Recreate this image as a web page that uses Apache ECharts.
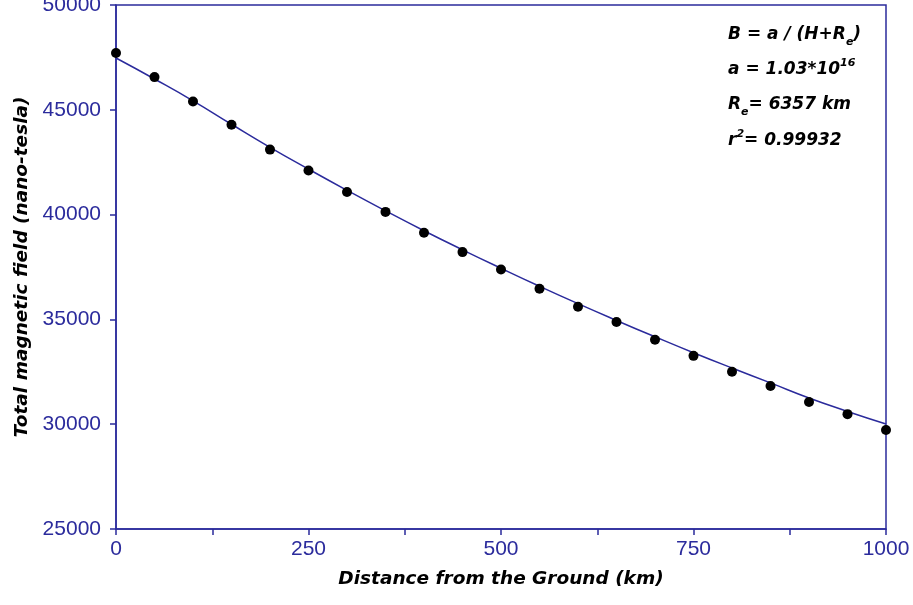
<!DOCTYPE html>
<html><head><meta charset="utf-8">
<script src="https://cdn.jsdelivr.net/npm/echarts@6/dist/echarts.min.js"></script>
<style>html,body{margin:0;padding:0;background:#fff}#c{width:913px;height:605px}</style>
</head><body><div id="c"></div>
<script>
const distances = [0,50,100,150,200,250,300,350,400,450,500,550,600,650,700,750,800,850,900,950,1000];
const measured = [47710,46560,45400,44290,43100,42100,41080,40130,39130,38210,37380,36460,35600,34880,34030,33260,32500,31820,31060,30480,29720];
const fitted = [47470,46470,45430,44310,43210,42170,41160,40180,39230,38320,37440,36580,35750,34950,34170,33410,32680,31970,31250,30610,30010];
const xTicks = [0,250,500,750,1000];
const yTicks = [25000,30000,35000,40000,45000,50000];
// annotation lines: [text, kind] where kind n=normal, b=subscript, p=superscript
const annotation = [
  [['B = a / (H+R','n'],['e','b'],[')','n']],
  [['a = 1.03*10','n'],['16','p']],
  [['R','n'],['e','b'],['= 6357 km','n']],
  [['r','n'],['2','p'],['= 0.99932','n']]
];

const navy = '#2b2b9c';
const annFont = 'DejaVu Sans';
const mainSize = 17, smallSize = 11;
const ctx = document.createElement('canvas').getContext('2d');
function w(t, size){ ctx.font = 'italic bold ' + size + 'px "' + annFont + '"'; return ctx.measureText(t).width; }
const graphics = [];
const annLeft = 728, annTops = [35, 70, 105, 141];
annotation.forEach((line, li) => {
  let x = annLeft;
  line.forEach(([t, k]) => {
    const size = k === 'n' ? mainSize : smallSize;
    const dy = k === 'b' ? 7 : (k === 'p' ? -7 : 0);
    graphics.push({type:'text', x:x, y:annTops[li] + dy, z:10, style:{
      text:t, fontFamily:annFont, fontSize:size, fontWeight:'bold', fontStyle:'italic',
      fill:'#000', verticalAlign:'middle', align:'left'}});
    x += w(t, size);
  });
});

const chart = echarts.init(document.getElementById('c'));
chart.setOption({
  backgroundColor:'#fff',
  animation:false,
  grid:{left:116,right:27,top:5,bottom:76,containLabel:false,outerBoundsMode:'none',
    show:true,borderColor:navy,borderWidth:1.5,backgroundColor:'transparent'},
  xAxis:{type:'value',min:0,max:1000,interval:125,
    name:'Distance from the Ground (km)',nameLocation:'middle',nameGap:41,
    nameTextStyle:{fontFamily:annFont,fontSize:18.5,fontWeight:'bold',fontStyle:'italic',color:'#000'},
    axisLine:{lineStyle:{color:navy,width:1.5}},
    axisTick:{length:6,lineStyle:{color:navy,width:1.5}},
    splitLine:{show:false},
    axisLabel:{color:navy,fontFamily:'Liberation Sans',fontSize:21,margin:10,
      formatter:v=>xTicks.includes(v)?String(v):''}},
  yAxis:{type:'value',min:25000,max:50000,interval:5000,
    name:'Total magnetic field (nano-tesla)',nameLocation:'middle',nameGap:84,
    nameTextStyle:{fontFamily:annFont,fontSize:18.5,fontWeight:'bold',fontStyle:'italic',color:'#000'},
    axisLine:{lineStyle:{color:navy,width:1.5}},
    axisTick:{length:6,lineStyle:{color:navy,width:1.5}},
    splitLine:{show:false},
    axisLabel:{color:navy,fontFamily:'Liberation Sans',fontSize:21,margin:15,
      formatter:v=>yTicks.includes(v)?String(v):''}},
  graphic:graphics,
  series:[
    {type:'line',data:distances.map((d,i)=>[d,fitted[i]]),smooth:true,symbol:'none',
     lineStyle:{color:navy,width:1.5},z:2},
    {type:'scatter',data:distances.map((d,i)=>[d,measured[i]]),symbol:'circle',symbolSize:10,
     itemStyle:{color:'#000',opacity:1},z:3}
  ]
});
</script></body></html>
